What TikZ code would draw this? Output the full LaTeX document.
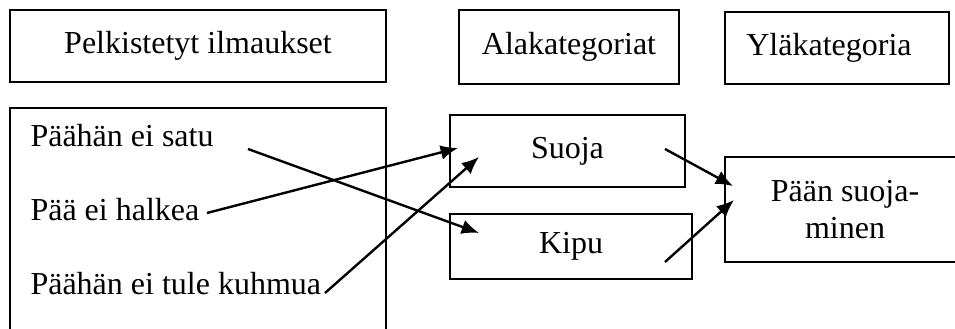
\documentclass[tikz,border=0pt]{standalone}
\usepackage{fontspec}
\setmainfont{Liberation Serif}
\usetikzlibrary{arrows.meta,positioning}

\begin{document}
\begin{tikzpicture}[x=0.375pt,y=-0.375pt,font=\fontsize{12}{14}\selectfont]
\tikzstyle{box}=[rectangle, draw=black, line width=0.9pt, inner sep=0pt]
\tikzstyle{item}=[anchor=base west, inner sep=0pt]
\tikzstyle{connect}=[-{Latex[length=6.5pt,width=5.5pt]}, line width=0.9pt]
\useasboundingbox (0,0) rectangle (955,329);
  % headers
  \node[box, minimum width=141pt, minimum height=27pt] (pelk) at (198,46) {Pelkistetyt ilmaukset};
  \node[box, minimum width=82.5pt, minimum height=27.75pt] (ala) at (569,47) {Alakategoriat};
  \node[box, minimum width=84pt, minimum height=27pt] (yla) at (837,48) {Yläkategoria\hspace*{6pt}};
  % expressions
  \node[box, minimum width=141pt, minimum height=90pt] (expr) at (198,228) {};
  \node[item] (satu) at (30,147) {Päähän ei satu};
  \node[item] (halkea) at (30,221) {Pää ei halkea};
  \node[item] (kuhmua) at (30,295) {Päähän ei tule kuhmua};
  % categories
  \node[box, minimum width=88.1pt, minimum height=27pt] (suoja) at (567.5,151) {Suoja};
  \node[box, minimum width=90.75pt, minimum height=24.4pt] (kipu) at (571,246.5) {Kipu};
  \node[box, minimum width=90pt, minimum height=39.4pt, align=center] (paan) at (845,209.5) {Pään suoja-\\minen};
  % arrow ends
  \coordinate (satu end) at (248,149);
  \coordinate (kipu in) at (479,233);
  \coordinate (suoja in a) at (458,148);
  \coordinate (suoja in b) at (479,157);
  \coordinate (suoja out) at (665,149);
  \coordinate (kipu out) at (665,262);
  \coordinate (paan in a) at (733,186);
  \coordinate (paan in b) at (734,200);
  \coordinate (halkea end) at (207,213);
  \coordinate (kuhmua end) at (325,293);
  \path
        (satu end) edge [connect] (kipu in)
        (halkea end) edge [connect] (suoja in a)
        (kuhmua end) edge [connect] (suoja in b)
        (suoja out) edge [connect] (paan in a)
        (kipu out) edge [connect] (paan in b);
\end{tikzpicture}
\end{document}
